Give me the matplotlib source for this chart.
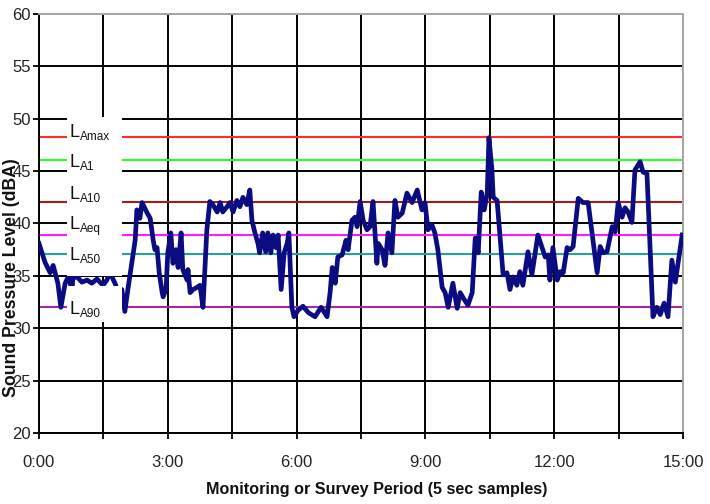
import matplotlib
matplotlib.use("Agg")
import matplotlib.pyplot as plt
from matplotlib.ticker import MultipleLocator, FuncFormatter
from matplotlib.patches import Rectangle

plt.rcParams['font.family'] = ['Liberation Sans', 'DejaVu Sans']

# time in minutes, level in dBA (5 sec samples)
minutes = [0.00, 0.14, 0.26, 0.33, 0.44, 0.51, 0.61, 0.68, 0.77, 0.79, 0.89,
           1.00, 1.12, 1.23, 1.35, 1.49, 1.58, 1.65, 1.77, 1.84, 1.93, 2.00,
           2.07, 2.17, 2.24, 2.28, 2.35, 2.40, 2.52, 2.59, 2.66, 2.70, 2.75,
           2.80, 2.87, 2.89, 2.96, 3.00, 3.07, 3.12, 3.19, 3.24, 3.31, 3.35,
           3.45, 3.47, 3.52, 3.59, 3.68, 3.75, 3.82, 3.91, 3.98, 4.05, 4.15,
           4.22, 4.28, 4.38, 4.45, 4.52, 4.61, 4.68, 4.75, 4.84, 4.91, 4.96,
           5.03, 5.10, 5.14, 5.21, 5.28, 5.33, 5.40, 5.45, 5.52, 5.57, 5.64,
           5.71, 5.78, 5.82, 5.89, 5.94, 6.03, 6.15, 6.27, 6.43, 6.57, 6.71,
           6.78, 6.83, 6.90, 6.96, 7.06, 7.15, 7.20, 7.29, 7.36, 7.41, 7.48,
           7.55, 7.64, 7.71, 7.78, 7.87, 7.90, 7.99, 8.06, 8.13, 8.22, 8.29,
           8.36, 8.46, 8.57, 8.69, 8.81, 8.92, 8.99, 9.06, 9.15, 9.22, 9.29,
           9.39, 9.46, 9.53, 9.64, 9.74, 9.81, 9.88, 9.99, 10.09, 10.16, 10.23,
           10.30, 10.37, 10.44, 10.48, 10.55, 10.58, 10.67, 10.81, 10.90, 10.97,
           11.04, 11.13, 11.20, 11.27, 11.39, 11.48, 11.62, 11.79, 11.86, 11.90,
           11.97, 12.07, 12.14, 12.21, 12.30, 12.37, 12.44, 12.56, 12.67, 12.79,
           13.00, 13.07, 13.14, 13.23, 13.35, 13.42, 13.49, 13.58, 13.65, 13.72,
           13.81, 13.88, 14.00, 14.07, 14.16, 14.30, 14.39, 14.47, 14.56, 14.65,
           14.74, 14.82, 14.98]
level = [38.1, 36.3, 35.3, 36.0, 34.3, 32.0, 34.3, 34.9, 33.7, 34.8, 34.9,
         34.4, 34.6, 34.3, 34.7, 34.1, 34.6, 35.3, 34.3, 33.5, 33.7, 31.6,
         33.7, 36.5, 38.4, 41.3, 40.5, 42.0, 41.0, 40.5, 38.4, 37.5, 37.7,
         35.3, 33.4, 33.0, 33.7, 37.2, 39.1, 36.2, 37.5, 35.8, 39.1, 35.6,
         34.6, 35.6, 33.4, 33.7, 33.9, 34.1, 32.0, 39.4, 42.1, 41.8, 41.1,
         42.0, 41.1, 41.6, 42.0, 41.1, 42.2, 41.6, 42.5, 41.8, 43.2, 40.3,
         39.1, 38.1, 37.2, 39.1, 37.3, 39.1, 37.2, 38.9, 37.7, 38.9, 33.7,
         37.2, 38.1, 39.1, 32.0, 31.1, 31.7, 32.1, 31.5, 31.1, 32.0, 31.1,
         33.4, 35.8, 34.3, 36.8, 37.0, 38.4, 37.5, 40.3, 40.6, 39.7, 42.1,
         40.3, 39.4, 39.7, 42.1, 36.2, 38.1, 37.5, 36.0, 39.1, 37.2, 42.2,
         40.6, 41.0, 42.9, 42.0, 43.2, 41.3, 42.0, 39.4, 39.9, 39.1, 37.5,
         33.9, 33.4, 32.0, 34.3, 31.9, 33.4, 32.9, 32.2, 33.4, 38.6, 37.2,
         43.0, 41.3, 42.9, 48.2, 45.1, 42.5, 42.2, 35.1, 35.3, 33.7,
         34.9, 34.1, 35.4, 34.1, 37.3, 35.1, 38.9, 36.8, 37.0, 34.6,
         37.7, 34.6, 35.4, 35.3, 37.7, 37.5, 37.8, 42.4, 42.0, 42.0,
         35.3, 37.8, 37.2, 37.3, 39.7, 39.2, 42.0, 40.6, 41.5, 41.1,
         40.1, 45.1, 45.9, 44.9, 44.8, 31.1, 32.0, 31.3, 32.4, 31.1,
         36.5, 34.4, 38.9]

stat_names = ['Amax', 'A1', 'A10', 'Aeq', 'A50', 'A90']
stat_values = [48.3, 46.1, 42.1, 38.9, 37.1, 32.0]
stat_colors = ['#ff2a2a', '#2aff2a', '#a01c1c', '#ff1aff', '#2a9e9e', '#a02aa0']
# baseline of each "L" in the label panel
label_base = [48.26, 45.39, 42.34, 39.47, 36.52, 31.36]

fig = plt.figure(figsize=(7.1, 5.04), dpi=100)
ax = fig.add_axes([0.0549, 0.1409, 0.9071, 0.8313])

ax.set_xlim(0, 15)
ax.set_ylim(20, 60)
ax.xaxis.set_major_locator(MultipleLocator(1.5))
ax.yaxis.set_major_locator(MultipleLocator(5))
ax.xaxis.set_major_formatter(FuncFormatter(
    lambda v, p: '%d:00' % round(v) if abs(v / 3 - round(v / 3)) < 1e-6 else ''))
ax.grid(True, color='black', linewidth=1.4, zorder=1)
ax.set_axisbelow(True)

for v, c in zip(stat_values, stat_colors):
    ax.axhline(v, color=c, linewidth=1.5, zorder=2)

ax.plot(minutes, level, color='#0c0c82', linewidth=3.4, zorder=3,
        solid_joinstyle='round')

# white label panel
ax.add_patch(Rectangle((0.65, 35.0), 1.28, 15.2, facecolor='white',
                       edgecolor='none', zorder=4))
ax.add_patch(Rectangle((0.65, 30.55), 1.28, 3.5, facecolor='white',
                       edgecolor='none', zorder=4))
for name, b in zip(stat_names, label_base):
    ax.annotate('L', (0.72, b), fontsize=13, color='#111111',
                va='baseline', ha='left', zorder=5)
    ax.annotate(name, (0.72, b), xytext=(7.2, -2.3), textcoords='offset points',
                fontsize=8.5, color='#111111',
                va='baseline', ha='left', zorder=5)

for s in ['top', 'right']:
    ax.spines[s].set_color('#a8a8a8')
    ax.spines[s].set_linewidth(1.4)
for s in ['left', 'bottom']:
    ax.spines[s].set_color('black')
    ax.spines[s].set_linewidth(1.4)

ax.tick_params(axis='both', direction='out', length=4, width=1.3,
               labelsize=12, colors='black', labelcolor='#222222')
ax.tick_params(axis='x', pad=12)
ax.tick_params(axis='y', pad=2)

ax.set_xlabel('Monitoring or Survey Period (5 sec samples)', fontsize=11.6,
              fontweight='bold', color='#111111', va='center')
ax.xaxis.set_label_coords(0.525, -0.136)
ax.set_ylabel('Sound Pressure Level (dBA)', fontsize=12.7, fontweight='bold',
              color='#111111')
ax.yaxis.set_label_coords(-0.0295, 0.37)
ax.yaxis.label.set_zorder(10)

fig.savefig('out.png', dpi=100)
